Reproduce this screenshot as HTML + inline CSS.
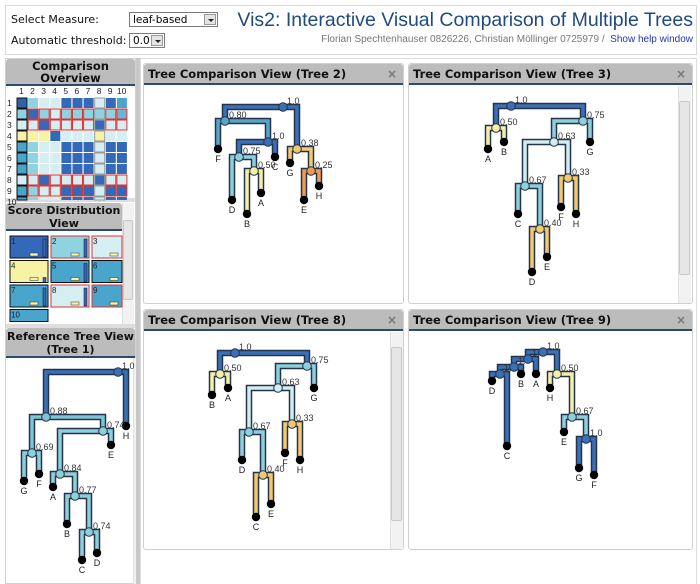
<!DOCTYPE html>
<html><head><meta charset="utf-8"><style>
*{box-sizing:border-box;margin:0;padding:0}
body{width:700px;height:584px;overflow:hidden;background:#fff;font-family:"DejaVu Sans","Liberation Sans",sans-serif;position:relative}
.abs{position:absolute}
.hdr{position:absolute;left:5px;top:5px;width:692px;height:50px;border:1px solid #d8d8d8;background:#fff}
.lbl{position:absolute;font-size:11px;color:#111}
.sel{position:absolute;border:1px solid #7a7a7a;background:#fff;font-size:10.5px;padding:1px 3px;height:15px;line-height:12px}
.sel b{position:absolute;right:1px;top:1px;width:12px;height:11px;background:#e4e4e4;border:1px solid #999}
.sel b:after{content:"";position:absolute;left:3px;top:4px;border:3px solid transparent;border-top:3px solid #222}
.ph{position:absolute;background:#bcbcbc;border-bottom:2px solid #2a4a70;font-weight:bold;font-size:11.5px;color:#111;border-radius:3px 3px 0 0}
.panel{position:absolute;border:1px solid #d0d0d0;background:#fff;border-radius:3px}
.x{position:absolute;right:6px;top:3px;color:#777;font-size:12px;font-weight:bold}
.sb{position:absolute;background:#f2f2f2;border-left:1px solid #e0e0e0}
.thumb{position:absolute;background:#e6e6e6;border:1px solid #c8c8c8;border-radius:2px}
</style></head><body>
<div class="hdr"></div>
<div class="lbl" style="left:11px;top:13px">Select Measure:</div>
<div class="lbl" style="left:11px;top:34px">Automatic threshold:</div>
<div class="sel" style="left:129px;top:12px;width:89px">leaf-based<b></b></div>
<div class="sel" style="left:129px;top:33px;width:36px">0.0<b></b></div>
<div class="abs" style="right:7px;top:9px;font-family:'Liberation Sans',sans-serif;font-size:19.5px;color:#1f4a80;white-space:nowrap">Vis2: Interactive Visual Comparison of Multiple Trees</div>
<div class="abs" style="right:7px;top:34px;font-family:'Liberation Sans',sans-serif;font-size:10px;color:#777;white-space:nowrap">Florian Spechtenhauser 0826226, Christian Möllinger 0725979 / &nbsp;<span style="color:#2233bb">Show help window</span></div>

<div class="abs" style="left:5px;top:58px;width:131px;height:526px;background:#fff;border:1px solid #d0d0d0"></div>
<div class="abs" style="left:136px;top:58px;width:4px;height:526px;background:#c8c8c8"></div>
<div class="ph" style="left:6px;top:59px;width:129px;height:27px;text-align:center;line-height:12px;padding-top:1px">Comparison<br>Overview</div>
<div class="ph" style="left:6px;top:203px;width:116px;height:28px;text-align:center;line-height:13px;padding-top:1px;font-size:11px">Score Distribution<br>View</div>
<div class="abs" style="left:6px;top:198px;width:129px;height:4px;background:#ddd"></div>
<div class="sb" style="left:122px;top:203px;width:12px;height:122px"></div>
<div class="thumb" style="left:123px;top:220px;width:10px;height:80px"></div>
<div class="abs" style="left:6px;top:324px;width:129px;height:4px;background:#ddd"></div>
<div class="ph" style="left:6px;top:328px;width:129px;height:30px;text-align:center;line-height:13px;padding-top:2px;font-size:11px">Reference Tree View<br>(Tree 1)</div>
<div class="sb" style="left:133px;top:358px;width:3px;height:226px"></div>

<div class="abs" style="left:140px;top:58px;width:557px;height:526px;border:1px solid #ddd;border-bottom:none"></div>
<div class="panel" style="left:143px;top:63px;width:261px;height:241px"></div>
<div class="ph" style="left:144px;top:64px;width:259px;height:21px;padding:3px 4px">Tree Comparison View (Tree 2)<span class="x">×</span></div>
<div class="panel" style="left:408px;top:63px;width:285px;height:241px"></div>
<div class="ph" style="left:409px;top:64px;width:283px;height:21px;padding:3px 4px">Tree Comparison View (Tree 3)<span class="x">×</span></div>
<div class="sb" style="left:678px;top:86px;width:13px;height:217px"></div>
<div class="thumb" style="left:679px;top:101px;width:11px;height:174px"></div>
<div class="panel" style="left:143px;top:309px;width:261px;height:241px"></div>
<div class="ph" style="left:144px;top:310px;width:259px;height:21px;padding:3px 4px">Tree Comparison View (Tree 8)<span class="x">×</span></div>
<div class="sb" style="left:390px;top:332px;width:13px;height:217px"></div>
<div class="thumb" style="left:391px;top:347px;width:11px;height:174px"></div>
<div class="panel" style="left:408px;top:309px;width:285px;height:241px"></div>
<div class="ph" style="left:409px;top:310px;width:283px;height:21px;padding:3px 4px">Tree Comparison View (Tree 9)<span class="x">×</span></div>

<svg id="s" class="abs" style="left:0;top:0" width="700" height="584" xmlns="http://www.w3.org/2000/svg" font-family="Liberation Sans, sans-serif"></svg>
<script>
var S=document.getElementById('s'),out='';
var C={d:'#3b6fb6',m:'#5aa3c8',l:'#8dd0dc',p:'#d3eef0',y:'#f6f0a6',o:'#f3c86e',r:'#ee9b58',mr:'#7ec4d6'};
var M=['dlppBBBgBm','lBlplllllL','ppBppppBpp','YYYBpppYpp','mlppBBBpBB','mlppBBBpBB','mlppBBBpBB','ppBppppBpp','mlppBBBpBB','mlppBBBpBB'];
var red=[0,1,1,0,0,0,0,1,1,0];
var mc={d:'#2f62a8',l:'#8fd3e0',p:'#d4eef2',B:'#3468b8',g:'#d4eef2',m:'#4aa5cc',L:'#6ab4d4',Y:'#f7f2a4'};
for(var i=0;i<10;i++){out+='<text x="'+(17+i*11.1+(i==9?0:2))+'" y="94" font-size="8.5" fill="#222">'+(i+1)+'</text>';
 out+='<text x="7" y="'+(106+i*11)+'" font-size="8.5" fill="#222">'+(i+1)+'</text>';
 for(var j=0;j<10;j++){var y=98+i*11;if(y>200)continue;var h=Math.min(10,200-y);
  var st=j==0?'#111':(j==7?'#999':(red[i]?'#d33':'none'));
  out+='<rect x="'+(17+j*11.1)+'" y="'+y+'" width="10" height="'+h+'" fill="'+mc[M[i][j]]+'" stroke="'+st+'" stroke-width="1"/>';}}
var T=[['#3468b8','#111'],['#8fd3e0','#d33'],['#d4eef2','#d33'],['#f7f2a4','#111'],['#4aa5cc','#111'],['#4aa5cc','#111'],['#4aa5cc','#111'],['#d4eef2','#d33'],['#4aa5cc','#d33'],['#4aa5cc','#111']];
for(var k=0;k<10;k++){var cx=10+(k%3)*41,cy=236+Math.floor(k/3)*24.5,w=k%3==2?30:38,h=k==9?12:22;
 out+='<rect x="'+cx+'" y="'+cy+'" width="'+w+'" height="'+h+'" fill="'+T[k][0]+'" stroke="'+T[k][1]+'" stroke-width="1"/>';
 out+='<text x="'+(cx+1)+'" y="'+(cy+8)+'" font-size="8" fill="#222">'+(k+1)+'</text>';
 if(k!=9){ if(k%3!=2)out+='<rect x="'+(cx+w-5)+'" y="'+(cy+(k==3?17:3))+'" width="3" height="'+(k==3?4:18)+'" fill="#3468b8" stroke="#111" stroke-width=".5"/>';
  out+='<rect x="'+(cx+w-(k%3==2?12:18))+'" y="'+(cy+17)+'" width="8" height="3" fill="#f7f2a4" stroke="#333" stroke-width=".5"/>';}}
S.innerHTML=out;
function tree(N,E){
 var o='';
 E.forEach(function(e){var p=N[e[0]],c=N[e[1]];o+='<path d="M'+p[0]+' '+p[1]+'H'+c[0]+'V'+c[1]+'" fill="none" stroke="#24344a" stroke-width="6.5"/>';});
 E.forEach(function(e){var p=N[e[0]],c=N[e[1]];o+='<path d="M'+p[0]+' '+p[1]+'H'+c[0]+'V'+c[1]+'" fill="none" stroke="'+C[p[2]]+'" stroke-width="3.5"/>';});
 for(var n in N){var v=N[n];
  if(v[2]=='k'){o+='<circle cx="'+v[0]+'" cy="'+v[1]+'" r="4.2" fill="#000"/><text x="'+v[0]+'" y="'+(v[1]+13)+'" font-size="9" text-anchor="middle" fill="#222">'+n+'</text>';}
  else{o+='<circle cx="'+v[0]+'" cy="'+v[1]+'" r="4.3" fill="'+C[v[2]]+'" stroke="#24344a" stroke-width="1"/><text x="'+(v[0]+4)+'" y="'+(v[1]-3)+'" font-size="9" fill="#333">'+v[3]+'</text>';}}
 S.insertAdjacentHTML('beforeend',o);}
tree({r:[283,107,'d','1.0'],a:[225,121,'m','0.80'],F:[218,149,'k'],b:[268,142,'d','1.0'],C:[275,157,'k'],c:[239,157,'l','0.75'],e:[254,171,'y','0.50'],A:[261,193,'k'],B:[247,214,'k'],D:[232,200,'k'],g:[297,149,'o','0.38'],G:[290,163,'k'],h:[311,171,'r','0.25'],H:[319,186,'k'],E:[304,200,'k']},
 [['r','a'],['r','g'],['a','F'],['a','b'],['b','c'],['b','C'],['c','D'],['c','e'],['e','B'],['e','A'],['g','G'],['g','h'],['h','E'],['h','H']]);
tree({r:[511,106,'d','1.0'],a:[496,128,'y','0.50'],A:[488,149,'k'],B:[504,142,'k'],b:[583,121,'l','0.75'],G:[590,142,'k'],c:[554,142,'p','0.63'],d:[525,186,'l','0.67'],C:[518,214,'k'],e:[540,229,'o','0.40'],D:[532,272,'k'],E:[547,257,'k'],f:[568,178,'o','0.33'],F:[561,207,'k'],H:[576,214,'k']},
 [['r','a'],['r','b'],['a','A'],['a','B'],['b','c'],['b','G'],['c','d'],['c','f'],['d','C'],['d','e'],['e','D'],['e','E'],['f','F'],['f','H']]);
tree({r:[235,353,'d','1.0'],a:[220,374,'y','0.50'],B:[212,395,'k'],A:[228,388,'k'],b:[307,366,'l','0.75'],G:[314,388,'k'],c:[278,388,'p','0.63'],d:[249,432,'l','0.67'],D:[242,460,'k'],e:[263,475,'o','0.40'],C:[256,517,'k'],E:[271,504,'k'],f:[292,424,'o','0.33'],F:[285,453,'k'],H:[300,460,'k']},
 [['r','a'],['r','b'],['a','B'],['a','A'],['b','c'],['b','G'],['c','d'],['c','f'],['d','D'],['d','e'],['e','C'],['e','E'],['f','F'],['f','H']]);
tree({r:[543,352,'d','1.0'],n2:[528,359,'d','1.'],n3:[514,367,'d','1.'],n4:[500,374,'d','1.'],D:[492,381,'k'],C:[507,446,'k'],B:[521,374,'k'],A:[536,374,'k'],a:[557,374,'y','0.50'],H:[550,388,'k'],b:[572,417,'l','0.67'],E:[564,432,'k'],c:[586,439,'d','1.0'],G:[579,468,'k'],F:[594,475,'k']},
 [['r','n2'],['r','a'],['n2','n3'],['n2','A'],['n3','n4'],['n3','B'],['n4','D'],['n4','C'],['a','H'],['a','b'],['b','E'],['b','c'],['c','G'],['c','F']]);
tree({r:[118,372,'d','1.0'],H:[126,426,'k'],a:[46,417,'mr','0.88'],b:[103,431,'l','0.74'],E:[111,445,'k'],c:[32,453,'l','0.69'],G:[24,481,'k'],F:[39,474,'k'],d:[60,474,'l','0.84'],A:[53,487,'k'],e:[75,496,'l','0.77'],B:[67,524,'k'],f:[89,532,'l','0.74'],C:[82,560,'k'],D:[97,553,'k']},
 [['r','a'],['r','H'],['a','c'],['a','b'],['c','G'],['c','F'],['b','d'],['b','E'],['d','A'],['d','e'],['e','B'],['e','f'],['f','C'],['f','D']]);
</script>
</body></html>
